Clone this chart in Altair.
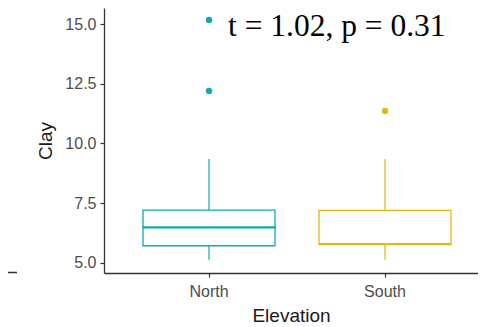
import altair as alt
import pandas as pd

groups = ["North", "South"]
lower = [5.13, 5.13]
q1 = [5.72, 5.79]
median = [6.49, 5.79]
q3 = [7.21, 7.20]
upper = [9.35, 9.35]

outlier_group = ["North", "North", "South"]
outlier_value = [12.2, 15.17, 11.36]

annotation = ["t = 1.02, p = 0.31"]
colors = ["#0FA9B3", "#E2B80F"]

stats = pd.DataFrame({"group": groups, "lower": lower, "q1": q1,
                      "median": median, "q3": q3, "upper": upper})
outliers = pd.DataFrame({"group": outlier_group, "value": outlier_value})
ann = pd.DataFrame({"label": annotation})

color_scale = alt.Scale(domain=groups, range=colors)
x_enc = alt.X("group:N", title="Elevation",
              scale=alt.Scale(domain=groups, paddingInner=0,
                              paddingOuter=0.0625, align=0.773),
              axis=alt.Axis(labelAngle=0, labelPadding=6, titlePadding=7,
                            titleFontSize=19))
y_scale = alt.Scale(domain=[4.58, 15.67], nice=False, zero=False)
y_axis = alt.Axis(values=[5, 7.5, 10, 12.5, 15], format=".1f",
                  labelPadding=4, titlePadding=9)

base = alt.Chart(stats)

whisk_lo = base.mark_rule(strokeWidth=1.2).encode(
    x=x_enc,
    y=alt.Y("lower:Q", scale=y_scale, axis=y_axis, title="Clay"),
    y2="q1:Q",
    color=alt.Color("group:N", scale=color_scale, legend=None),
)
whisk_hi = base.mark_rule(strokeWidth=1.2).encode(
    x=x_enc,
    y=alt.Y("q3:Q", scale=y_scale),
    y2="upper:Q",
    color=alt.Color("group:N", scale=color_scale, legend=None),
)
box = base.mark_bar(size=132, fill="white", strokeWidth=1.3).encode(
    x=x_enc,
    y=alt.Y("q1:Q", scale=y_scale),
    y2="q3:Q",
    stroke=alt.Stroke("group:N", scale=color_scale, legend=None),
)
med = base.mark_tick(size=133, thickness=2.4, opacity=1).encode(
    x=x_enc,
    y=alt.Y("median:Q", scale=y_scale),
    color=alt.Color("group:N", scale=color_scale, legend=None),
)
pts = alt.Chart(outliers).mark_circle(size=40, opacity=1).encode(
    x=x_enc,
    y=alt.Y("value:Q", scale=y_scale),
    color=alt.Color("group:N", scale=color_scale, legend=None),
)
text = alt.Chart(ann).mark_text(font="Liberation Serif", fontSize=31.5,
                                align="left", baseline="alphabetic",
                                color="black").encode(
    x=alt.value(124), y=alt.value(28.3), text="label:N"
)
stray = alt.Chart(ann).mark_rule(color="#333", strokeWidth=1.5).encode(
    x=alt.value(-96), x2=alt.value(-87), y=alt.value(264.5)
)

chart = alt.layer(whisk_lo, whisk_hi, box, med, pts, text, stray).properties(
    width=374, height=265,
    autosize=alt.AutoSizeParams(type="none"),
    padding={"left": 96, "top": 0, "right": 0, "bottom": 52},
).configure_view(stroke=None).configure_axis(
    grid=False,
    labelFont="Liberation Sans", labelFontSize=16, labelColor="#4D4D4D",
    titleFont="Liberation Sans", titleFontSize=19, titleColor="#1a1a1a",
    titleFontWeight="normal",
    domainColor="#333333", domainWidth=1.3,
    tickColor="#333333", tickSize=4, tickWidth=1.2,
)

chart.save("out.html", embed_options={"renderer": "svg", "actions": False})
